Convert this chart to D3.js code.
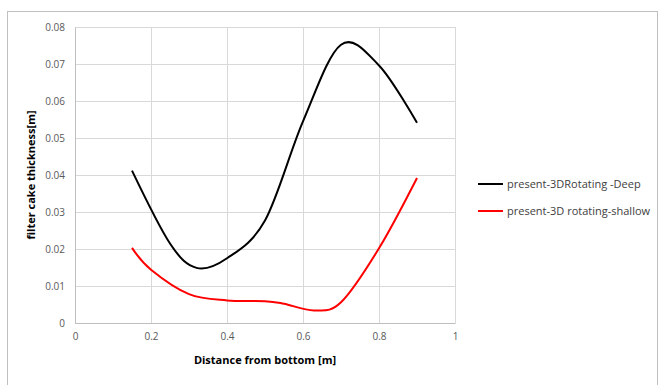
<!DOCTYPE html>
<html>
<head>
<meta charset="utf-8">
<script src="https://cdn.jsdelivr.net/npm/d3@7"></script>
<style>
  body { margin: 0; background: #fff; }
  svg { display: block; font-family: "Open Sans", "Noto Sans", sans-serif; }
</style>
</head>
<body>
<svg id="chart" width="665" height="385"></svg>
<script>
// ---- data ----
const deepX   = [0.15, 0.25, 0.32, 0.4, 0.5, 0.6, 0.7, 0.8, 0.9];
const deepY   = [0.0412, 0.0215, 0.0149, 0.0175, 0.0277, 0.0545, 0.0752, 0.0696, 0.0541];
const shallowX = [0.15, 0.2, 0.3, 0.4, 0.5, 0.55, 0.63, 0.7, 0.8, 0.9];
const shallowY = [0.0203, 0.0144, 0.0078, 0.0061, 0.0059, 0.0052, 0.0034, 0.0056, 0.0202, 0.0392];
const xTicks = [0, 0.2, 0.4, 0.6, 0.8, 1];
const yTicks = [0, 0.01, 0.02, 0.03, 0.04, 0.05, 0.06, 0.07, 0.08];
const seriesNames = ["present-3DRotating -Deep", "present-3D rotating-shallow"];
const seriesColors = ["#000000", "#ff0000"];

const svg = d3.select("#chart");

// outer chart border
svg.append("rect")
  .attr("x", 7.5).attr("y", 11.5).attr("width", 650).attr("height", 400)
  .attr("fill", "none").attr("stroke", "#c0c0c0");

const m = { left: 75, top: 27 };
const w = 455 - m.left, h = 323 - m.top;

const x = d3.scaleLinear().domain([0, 1]).range([0, w]);
const y = d3.scaleLinear().domain([0, 0.08]).range([h, 0]);

const g = svg.append("g").attr("transform", `translate(${m.left},${m.top})`);

// gridlines
g.append("g").selectAll("line").data(yTicks).enter().append("line")
  .attr("x1", 0).attr("x2", w)
  .attr("y1", d => Math.round(y(d)) + 0.5).attr("y2", d => Math.round(y(d)) + 0.5)
  .attr("stroke", "#d9d9d9").attr("stroke-width", 1);
g.append("g").selectAll("line").data(xTicks).enter().append("line")
  .attr("y1", 0).attr("y2", h)
  .attr("x1", d => Math.round(x(d)) + 0.5).attr("x2", d => Math.round(x(d)) + 0.5)
  .attr("stroke", "#d9d9d9").attr("stroke-width", 1);

// axes (no tick marks, excel style)
const xAxis = g.append("g").attr("transform", `translate(0,${h})`)
  .call(d3.axisBottom(x).tickValues(xTicks).tickSize(0).tickPadding(10).tickFormat(d3.format("")));
const yAxis = g.append("g")
  .call(d3.axisLeft(y).tickValues(yTicks).tickSize(0).tickPadding(10).tickFormat(d => d === 0 ? "0" : d3.format(".2f")(d)));
[xAxis, yAxis].forEach(a => {
  a.select(".domain").attr("stroke", "#bfbfbf");
  a.selectAll("text").attr("fill", "#595959").style("font-size", "10px")
    .style("font-family", "'Open Sans', sans-serif");
});

// lines (uniform catmull-rom, close to excel's smoothed line)
const line = d3.line().curve(d3.curveCardinal.tension(0))
  .x(d => x(d[0])).y(d => y(d[1]));
const series = [d3.zip(deepX, deepY), d3.zip(shallowX, shallowY)];
series.forEach((pts, i) => {
  g.append("path").datum(pts)
    .attr("fill", "none").attr("stroke", seriesColors[i]).attr("stroke-width", 2)
    .attr("d", line);
});

// axis titles
svg.append("text")
  .attr("x", 265).attr("y", 364).attr("text-anchor", "middle")
  .attr("fill", "#000").style("font-size", "11px").style("font-weight", "bold")
  .text("Distance from bottom [m]");
svg.append("text")
  .attr("transform", "translate(35,175) rotate(-90)").attr("text-anchor", "middle")
  .attr("fill", "#000").style("font-size", "11px").style("font-weight", "bold")
  .text("filter cake thickness[m]");

// legend
const lg = svg.append("g").attr("transform", "translate(478,184)");
seriesNames.forEach((name, i) => {
  const row = lg.append("g").attr("transform", `translate(0,${i * 27})`);
  row.append("line").attr("x1", 0).attr("x2", 25).attr("y1", 0).attr("y2", 0)
    .attr("stroke", seriesColors[i]).attr("stroke-width", 2);
  row.append("text").attr("x", 29).attr("y", 4)
    .attr("fill", "#404040").style("font-size", "11px").text(name);
});
</script>
</body>
</html>
